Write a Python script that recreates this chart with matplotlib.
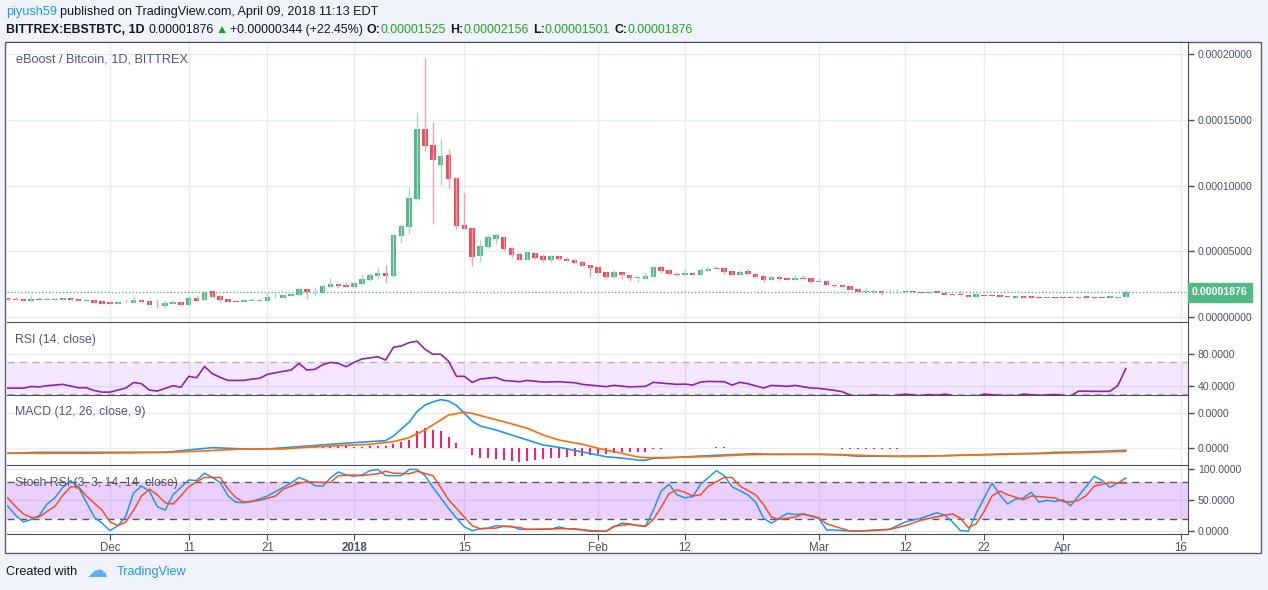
import numpy as np
import matplotlib
matplotlib.use('Agg')
import matplotlib.pyplot as plt
import matplotlib.transforms as mtransforms
from matplotlib.patches import Rectangle

plt.rcParams['font.family'] = ['Liberation Sans', 'DejaVu Sans']

# daily candles EBST/BTC, in satoshi, 2017-11-18 .. 2018-04-09
opens = [1444, 1394, 1368, 1242, 1368, 1318, 1318, 1330, 1444, 1368,
         1242, 1292, 1216, 1166, 1014, 1115, 1090, 1292, 1216, 1014,
         862, 1014, 1166, 938, 1444, 1292, 1976, 1622, 1368, 1242,
         1166, 1242, 1242, 1242, 1495, 1470, 1622, 1698, 2128, 1875,
         1850, 2280, 2508, 2432, 2280, 2508, 2812, 3116, 3344, 3116,
         6179, 6863, 8991, 14288, 13072, 11552, 12312, 10564, 6992, 6764,
         4659, 5343, 5951, 6080, 5244, 4788, 4355, 4864, 4636, 4332,
         4636, 4408, 4332, 4180, 3952, 3800, 3420, 3040, 3420, 3192,
         2964, 2888, 3040, 3800, 3572, 3268, 3192, 3344, 3192, 3496,
         3724, 3724, 3496, 3192, 3496, 3268, 3116, 2812, 3040, 2964,
         2812, 2964, 2964, 2660, 2736, 2432, 2432, 2356, 2153, 1875,
         1875, 1976, 1875, 1875, 1875, 1976, 1925, 1798, 1976, 1798,
         1748, 1748, 1672, 1545, 1672, 1672, 1672, 1571, 1469, 1596,
         1596, 1545, 1469, 1520, 1520, 1520, 1469, 1596, 1520, 1520,
         1469, 1469, 1525]
highs = [1470, 1495, 1380, 1672, 1520, 1520, 1444, 1460, 1450, 1380,
         1368, 1368, 1230, 1242, 1242, 1368, 1596, 1368, 1230, 1368,
         1292, 1292, 1242, 1672, 1596, 1976, 1990, 1672, 1400, 1260,
         1368, 1444, 1394, 1799, 1799, 1690, 1760, 2280, 2140, 2280,
         2533, 2964, 2584, 2660, 2660, 3268, 3344, 3724, 3952, 6300,
         7091, 9880, 15580, 19684, 14820, 13528, 12768, 10640, 9424, 6800,
         5852, 6308, 6384, 6150, 5320, 4800, 4990, 4940, 4788, 4712,
         4712, 4560, 4408, 4332, 3980, 3876, 3440, 3572, 3440, 3210,
         3050, 3420, 3876, 3820, 3648, 3420, 3648, 3420, 3724, 3876,
         3876, 3740, 3510, 3572, 3648, 3290, 3130, 3116, 3192, 2980,
         3192, 3192, 2980, 2964, 2812, 2508, 2450, 2370, 2230, 2179,
         2128, 1990, 2128, 2128, 1990, 2000, 1940, 1890, 1990, 1810,
         1760, 1976, 1690, 1760, 1690, 1690, 1680, 1580, 1610, 1610,
         1600, 1550, 1550, 1525, 1525, 1525, 1530, 1600, 1525, 1525,
         1580, 1600, 2156]
lows = [1318, 1292, 1230, 1230, 1300, 1300, 1300, 1318, 1318, 1230,
        1230, 1080, 1000, 1000, 1000, 1100, 1080, 1150, 930, 710,
        710, 1000, 930, 920, 1230, 1242, 1546, 1166, 1166, 1150,
        1115, 1230, 1230, 1230, 1470, 1460, 1610, 1690, 1368, 1622,
        1840, 2260, 2229, 2270, 2229, 2432, 2761, 2888, 2584, 3040,
        5647, 6407, 8900, 12639, 7091, 10032, 9728, 6688, 6688, 3899,
        4203, 5270, 5548, 5050, 4600, 4300, 4300, 4408, 4180, 4180,
        4332, 4250, 4090, 3860, 3040, 3330, 2888, 2964, 2888, 2736,
        2660, 2870, 3020, 3344, 3192, 3116, 3170, 3170, 3170, 3470,
        3630, 3268, 3170, 3170, 3250, 3020, 2660, 2790, 2812, 2790,
        2790, 2870, 2600, 2640, 2400, 2280, 2260, 2040, 1900, 1860,
        1860, 1672, 1860, 1860, 1860, 1860, 1790, 1790, 1790, 1690,
        1640, 1640, 1540, 1540, 1615, 1590, 1540, 1515, 1460, 1460,
        1460, 1460, 1460, 1460, 1460, 1460, 1460, 1460, 1460, 1460,
        1460, 1460, 1501]
closes = [1318, 1318, 1242, 1368, 1318, 1368, 1368, 1444, 1318, 1242,
          1318, 1090, 1014, 1014, 1166, 1166, 1292, 1166, 938, 963,
          1090, 1166, 938, 1444, 1242, 1875, 1546, 1292, 1166, 1166,
          1292, 1318, 1318, 1520, 1520, 1672, 1748, 2128, 1875, 1925,
          2356, 2508, 2356, 2280, 2584, 2888, 3192, 3344, 3116, 6232,
          6916, 9044, 14288, 13019, 11955, 12236, 10488, 6939, 6688, 4583,
          5396, 6080, 6232, 5168, 4735, 4355, 4963, 4484, 4332, 4636,
          4408, 4256, 4104, 3876, 3724, 3344, 3040, 3420, 3192, 2964,
          3040, 3116, 3800, 3496, 3268, 3192, 3344, 3192, 3572, 3648,
          3648, 3420, 3192, 3420, 3268, 3040, 2812, 3040, 2888, 2812,
          2964, 2888, 2660, 2736, 2432, 2356, 2280, 2052, 1925, 1976,
          1976, 1850, 1925, 1925, 1976, 1875, 1798, 1875, 1798, 1697,
          1646, 1646, 1545, 1748, 1622, 1596, 1545, 1520, 1596, 1469,
          1469, 1469, 1545, 1469, 1469, 1469, 1520, 1469, 1469, 1469,
          1571, 1532, 1876]

# RSI (14, close)
rsi_days = [0, 2, 3, 4, 5, 7, 8, 9, 10, 11,
            12, 13, 14, 15, 16, 17, 18, 19, 21, 22,
            23, 24, 25, 26, 27, 28, 30, 31, 32, 33,
            34, 36, 37, 38, 39, 40, 41, 42, 43, 44,
            45, 47, 48, 49, 50, 51, 52, 53, 54, 55,
            56, 57, 58, 59, 60, 62, 63, 65, 66, 68,
            70, 72, 73, 76, 77, 79, 81, 82, 83, 85,
            86, 87, 88, 89, 91, 92, 93, 94, 96, 97,
            99, 100, 102, 103, 105, 106, 107, 108, 110, 112,
            114, 116, 117, 118, 119, 121, 123, 124, 126, 128,
            129, 131, 133, 135, 136, 138, 140, 141, 142]
rsi_vals = [37, 37, 39, 38.5, 40, 41.7, 39.5, 37.5, 37.5, 34,
            32, 32, 34.6, 37, 44, 42.5, 34.6, 33.3, 40, 38,
            51.7, 50, 64, 55, 50.4, 46.6, 46.6, 48.3, 49.2, 54.2,
            56.2, 59.6, 67.9, 59.6, 60.4, 66.2, 69.2, 67.9, 63.7, 69.2,
            73.3, 76.2, 72.1, 88, 89.7, 93.9, 95.6, 85.6, 79.3, 79.3,
            70.6, 51.7, 51.7, 44.2, 48.3, 50.4, 46.6, 45, 46.6, 44.6,
            45, 43.7, 41.7, 38.8, 40.4, 38.5, 39.2, 44.2, 43.3, 41.7,
            42, 40.8, 44.6, 45.4, 45, 40.8, 44.2, 42.5, 37.1, 40.4,
            39.2, 40.4, 37.1, 36.7, 34.2, 32.5, 28.4, 27, 28.5, 27,
            29.5, 27.5, 29, 28, 29.5, 26, 27, 29.5, 28, 27.5,
            29.5, 28, 29, 27, 33.3, 33, 33, 40.4, 61.2]

# MACD (12, 26, close, 9), in satoshi
macd_days = [0, 4, 10, 15, 20, 23, 26, 30, 33, 37,
             41, 44, 48, 49, 50, 51, 52, 53, 54, 55,
             56, 57, 58, 59, 60, 62, 64, 66, 68, 70,
             72, 74, 76, 78, 79, 80, 81, 82, 84, 86,
             88, 91, 93, 95, 97, 103, 106, 108, 112, 116,
             119, 122, 125, 128, 131, 133, 136, 139, 142]
macd_vals = [-286, -229, -229, -229, -229, -95, 38, -38, -38, 95,
             229, 324, 438, 700, 1100, 1500, 2100, 2476, 2650, 2780,
             2700, 2450, 2000, 1550, 1280, 1048, 762, 476, 190, 60,
             -120, -300, -480, -560, -610, -667, -686, -571, -533, -495,
             -438, -381, -343, -305, -343, -343, -381, -457, -457, -438,
             -419, -381, -343, -305, -286, -229, -210, -171, -114]
signal_days = [0, 10, 20, 23, 30, 35, 38, 42, 46, 49,
               51, 53, 55, 56, 58, 59, 61, 63, 66, 68,
               70, 73, 75, 78, 80, 81, 84, 87, 90, 93,
               96, 103, 106, 109, 113, 116, 121, 125, 128, 131,
               134, 136, 139, 142]
signal_vals = [-286, -286, -229, -190, -38, -38, 57, 152, 229, 381,
               610, 1048, 1619, 1905, 2057, 2000, 1752, 1524, 1143, 762,
               476, 229, 0, -286, -495, -533, -533, -495, -457, -381,
               -343, -343, -362, -419, -457, -457, -400, -362, -324, -305,
               -267, -248, -210, -171]
hist_vals = ([0] * 5 + [20] * 6 + [0] * 12 + [20] * 4 + [0] * 11
             + [57, 57, 76, 133, 114, 114, 95, 95, 114, 133,
                152, 229, 381, 476, 990, 1143, 1048, 990, 667, 286, 0,
                -381, -533, -571, -629, -667, -705, -762, -705, -667, -629,
                -571, -533, -476, -438, -419, -381, -343, -305, -267, -229,
                -229, -190, -190, -57, -57]
             + [0] * 4 + [40, 40, 95, 95, 40, 40, 40, 40] + [0] * 10
             + [-30] * 8 + [0] * 11 + [30] * 18)

# Stoch RSI (3, 3, 14, 14, close)
k_days = [0, 1, 2, 3, 4, 5, 6, 7, 8, 9,
          10, 11, 12, 13, 14, 15, 16, 17, 18, 19,
          20, 21, 22, 23, 24, 25, 26, 27, 28, 29,
          30, 31, 33, 35, 36, 37, 38, 39, 40, 41,
          42, 43, 44, 45, 46, 47, 48, 49, 50, 51,
          52, 53, 54, 55, 56, 57, 58, 59, 60, 61,
          62, 63, 64, 65, 66, 69, 70, 71, 73, 74,
          76, 77, 78, 79, 80, 81, 82, 83, 84, 85,
          86, 87, 88, 90, 91, 92, 94, 95, 96, 97,
          98, 99, 100, 101, 103, 104, 105, 106, 108, 110,
          112, 114, 115, 116, 118, 119, 120, 121, 122, 123,
          125, 126, 127, 128, 129, 130, 131, 132, 133, 134,
          135, 136, 137, 138, 139, 140, 141, 142]
k_vals = [41, 26, 15, 19, 25, 44, 54, 71, 82, 71,
          47, 23, 13, 1, 9, 24, 62, 73, 65, 40,
          34, 59, 71, 83, 82, 94, 87, 79, 57, 47,
          46, 48, 57, 71, 78, 87, 82, 74, 73, 86,
          96, 91, 89, 91, 98, 100, 90, 90, 90, 100,
          100, 90, 71, 54, 37, 21, 7, 1, 4, 5,
          9, 8, 8, 3, 3, 3, 7, 4, 2, 0,
          0, 7, 13, 12, 9, 8, 34, 65, 76, 59,
          54, 56, 76, 98, 90, 72, 59, 47, 21, 13,
          21, 29, 27, 28, 21, 2, 2, 1, 0, 2,
          3, 15, 18, 21, 30, 26, 15, 1, 0, 29,
          78, 59, 44, 52, 54, 63, 47, 50, 48, 51,
          41, 57, 73, 89, 82, 71, 78, 86]
d_days = [0, 1, 2, 3, 4, 5, 6, 7, 8, 9,
          10, 12, 13, 14, 15, 16, 17, 18, 19, 20,
          21, 22, 23, 24, 25, 27, 28, 29, 30, 32,
          34, 35, 37, 38, 40, 41, 42, 44, 45, 47,
          48, 49, 51, 52, 54, 55, 56, 58, 59, 60,
          62, 63, 65, 66, 70, 72, 74, 76, 77, 79,
          81, 82, 83, 84, 85, 86, 87, 88, 89, 91,
          92, 93, 95, 96, 97, 98, 100, 101, 103, 104,
          106, 107, 110, 112, 114, 116, 119, 120, 121, 122,
          123, 124, 125, 126, 127, 129, 130, 133, 134, 135,
          136, 137, 138, 140, 141, 142]
d_vals = [54, 40, 28, 22, 23, 32, 40, 58, 72, 72,
          57, 34, 15, 9, 15, 34, 57, 68, 59, 46,
          44, 57, 72, 80, 87, 87, 68, 54, 47, 50,
          57, 68, 78, 80, 79, 79, 90, 91, 90, 93,
          97, 94, 93, 97, 90, 71, 51, 23, 9, 4,
          5, 8, 6, 3, 4, 4, 1, 0, 8, 11,
          8, 19, 39, 61, 67, 63, 57, 59, 73, 87,
          87, 73, 59, 43, 23, 19, 23, 28, 22, 12,
          4, 0, 1, 3, 9, 18, 26, 28, 21, 6,
          12, 32, 57, 65, 59, 51, 57, 54, 48, 47,
          50, 58, 73, 79, 78, 78]

tick_days = [13, 23, 33, 44, 58, 75, 86, 103, 114, 124, 134, 149]
tick_labels = ['Dec', '11', '21', '2018', '15', 'Feb', '12', 'Mar', '12', '22', 'Apr', '16']

W, H = 1268, 590
fig = plt.figure(figsize=(W / 100, H / 100), dpi=100)
fig.patch.set_facecolor('#f0f3fa')


def fx(px):
    return px / W


def fy(py):
    return 1 - py / H


# white chart frame
fig.add_artist(Rectangle((fx(5), fy(553)), (1261 - 5) / W, (553 - 42) / H,
                         transform=fig.transFigure, facecolor='white',
                         edgecolor='#5d606b', lw=1, zorder=-5))

EDGE = '#4a4e59'
LABEL = '#4c525e'
GRID = '#e6edf3'


def panel(top, bottom):
    ax = fig.add_axes([fx(7), fy(bottom), (1188 - 7) / W, (bottom - top) / H])
    ax.set_facecolor('white')
    ax.set_xlim(-0.08, 149.9)
    ax.set_xticks(tick_days)
    ax.grid(True, color=GRID, lw=1)
    ax.set_axisbelow(True)
    ax.yaxis.tick_right()
    ax.tick_params(axis='y', direction='out', length=4, width=1, color=EDGE,
                   labelsize=7.6, labelcolor=LABEL, pad=3)
    ax.tick_params(axis='x', length=0, labelbottom=False)
    ax.spines['left'].set_visible(False)
    ax.spines['bottom'].set_visible(False)
    ax.spines['top'].set_color(EDGE)
    ax.spines['right'].set_color(EDGE)
    return ax


days = np.arange(len(closes))
o = np.array(opens, dtype=float)
h = np.array(highs, dtype=float)
l = np.array(lows, dtype=float)
c = np.array(closes, dtype=float)
up = c >= o

# ---- price panel
ax = panel(42, 322)
ax.vlines(days[up], l[up], h[up], color='#a6dabf', lw=1)
ax.vlines(days[~up], l[~up], h[~up], color='#f3a3ab', lw=1)
lo = np.minimum(o, c)
hgt = np.maximum(np.abs(c - o), 60)
ax.bar(days[up], hgt[up], bottom=lo[up], width=0.7, color='#53b987', lw=0)
ax.bar(days[~up], hgt[~up], bottom=lo[~up], width=0.7, color='#eb4d5c', lw=0)
ax.axhline(c[-1], color='#53b987', ls=(0, (1, 1.5)), lw=1)
ax.set_ylim(-380, 20914)
price_ticks = [0, 5000, 10000, 15000, 20000]
ax.set_yticks(price_ticks)
ax.set_yticklabels([f'{v / 1e8:.8f}' for v in price_ticks])
trans = mtransforms.blended_transform_factory(ax.transAxes, ax.transData)
ax.text(1.0 + 4 / 1181, c[-1], f'{c[-1] / 1e8:.8f}', transform=trans,
        ha='left', va='center', color='white', fontsize=7.6, fontweight='bold',
        bbox=dict(boxstyle='square,pad=0.4', fc='#53b987', ec='#53b987'))

# ---- RSI
ax_rsi = panel(322, 395)
ax_rsi.axhspan(30, 70, color=(0.6, 0.08, 1.0, 0.1), lw=0)
for lvl in (70, 30):
    ax_rsi.axhline(lvl, color='#b4aebb', ls=(0, (5, 4)), lw=1)
ax_rsi.plot(rsi_days, rsi_vals, color='#8e24aa', lw=1.2)
ax_rsi.set_ylim(28.4, 119.6)
ax_rsi.set_yticks([40, 80])
ax_rsi.set_yticklabels(['40.0000', '80.0000'])

# ---- MACD
ax_m = panel(395, 465)
ax_m.vlines(days, 0, hist_vals, color='#ff1a75', lw=1.1, antialiased=False)
ax_m.plot(macd_days, macd_vals, color='#2196f3', lw=1.2)
ax_m.plot(signal_days, signal_vals, color='#ff6d00', lw=1.2)
ax_m.set_ylim(-954, 3046)
ax_m.set_yticks([0, 2000])
ax_m.set_yticklabels(['0.0000', '0.0000'])

# ---- Stoch RSI
ax_s = panel(465, 534)
ax_s.axhspan(20, 80, color=(0.6, 0.08, 1.0, 0.2), lw=0)
for lvl in (80, 20):
    ax_s.axhline(lvl, color='#5a5a5a', ls=(0, (5, 4)), lw=1)
ax_s.plot(k_days, k_vals, color='#2196f3', lw=1.1)
ax_s.plot(d_days, d_vals, color='#f4511e', lw=1.1)
ax_s.set_ylim(-4.5, 107.2)
ax_s.set_yticks([0, 50, 100])
ax_s.set_yticklabels(['0.0000', '50.0000', '100.0000'])
ax_s.spines['bottom'].set_visible(True)
ax_s.spines['bottom'].set_color(EDGE)
ax_s.tick_params(axis='x', direction='out', length=4, color=EDGE,
                 labelbottom=True, labelsize=8.3, labelcolor=LABEL, pad=1.5)
ax_s.set_xticklabels(tick_labels)
for lab in ax_s.get_xticklabels():
    if lab.get_text() == '2018':
        lab.set_fontweight('bold')

# ---- panel titles
TITLE = '#555a64'
fig.text(fx(16), fy(60), 'eBoost / Bitcoin, 1D, BITTREX', color=TITLE, fontsize=9.2, va='center')
fig.text(fx(15), fy(340), 'RSI (14, close)', color=TITLE, fontsize=8.8, va='center')
fig.text(fx(15), fy(412), 'MACD (12, 26, close, 9)', color=TITLE, fontsize=8.8, va='center')
fig.text(fx(15), fy(483), 'Stoch RSI (3, 3, 14, 14, close)', color=TITLE, fontsize=8.8, va='center')

# ---- header and footer, pieces laid out one after the other
renderer = fig.canvas.get_renderer()


def text_run(x, y, pieces, size=9.1):
    for s, color, weight, gap in pieces:
        t = fig.text(fx(x), fy(y), s, color=color, fontsize=size,
                     fontweight=weight, ha='left', va='center')
        x += t.get_window_extent(renderer).width + gap
    return x


DARK = '#131722'
GREEN = '#22a822'
text_run(6, 12, [('piyush59', '#2196f3', 'normal', 3.5),
                 ('published on TradingView.com, April 09, 2018 11:13 EDT', DARK, 'normal', 0)])
text_run(6, 30, [('BITTREX:EBSTBTC, 1D', DARK, 'bold', 4),
                 ('0.00001876', DARK, 'normal', 2),
                 ('▲', '#1e9e1e', 'normal', 2),
                 ('+0.00000344 (+22.45%)', DARK, 'normal', 4),
                 ('O:', DARK, 'bold', 0), ('0.00001525', GREEN, 'normal', 4),
                 ('H:', DARK, 'bold', 0), ('0.00002156', GREEN, 'normal', 4),
                 ('L:', DARK, 'bold', 0), ('0.00001501', GREEN, 'normal', 4),
                 ('C:', DARK, 'bold', 0), ('0.00001876', GREEN, 'normal', 0)],
         size=8.9)
text_run(6, 572, [('Created with', DARK, 'normal', 8)])
fig.text(fx(87), fy(571), '☁', color='#5aaef0', fontsize=15, va='center',
         family=['DejaVu Sans'])
fig.text(fx(117), fy(572), 'TradingView', color='#2196f3', fontsize=9.1, va='center')

fig.savefig('out.png', dpi=100)
